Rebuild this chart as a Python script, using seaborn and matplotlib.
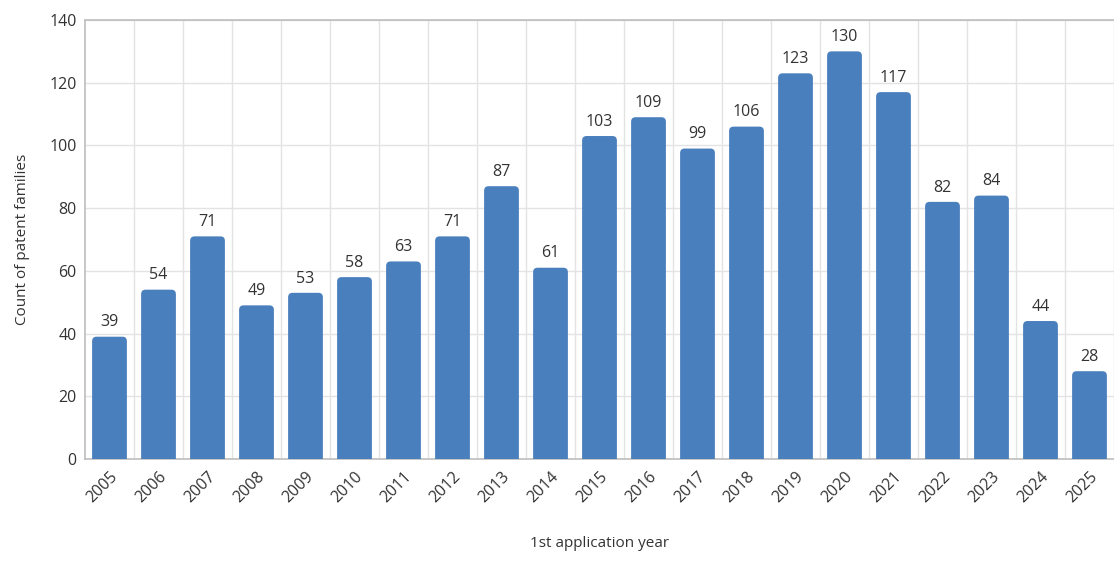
import numpy as np
import pandas as pd
import matplotlib
matplotlib.use("Agg")
import matplotlib.pyplot as plt
from matplotlib.patches import FancyBboxPatch
import seaborn as sns

# ----------------------------------------------------
# Data
# ----------------------------------------------------
years = [str(y) for y in range(2005, 2026)]
counts = [39, 54, 71, 49, 53, 58, 63, 71, 87, 61,
          103, 109, 99, 106, 123, 130, 117, 82, 84, 44, 28]

df = pd.DataFrame({"year": years, "count": counts})

# ----------------------------------------------------
# Style
# ----------------------------------------------------
sns.set_style("white")
plt.rcParams['font.family'] = ['Open Sans', 'DejaVu Sans']

bar_color = "#4a7fbd"
text_color = "#333333"
grid_color = "#e3e3e3"

fig = plt.figure(figsize=(11.14, 5.72), dpi=100)
ax = fig.add_axes([85 / 1114, 113 / 572, 1029 / 1114, 439 / 572])

sns.barplot(data=df, x="year", y="count", color=bar_color,
            width=0.71, saturation=1, linewidth=0, ax=ax, zorder=3)

# swap the flat bars for ones with rounded tops
px_x = 49.3          # pixels per category
px_y = 439 / 140     # pixels per unit count
aspect = px_x / px_y
rad = 4.5 / px_x
for p in list(ax.patches):
    x0, w, h = p.get_x(), p.get_width(), p.get_height()
    p.set_visible(False)
    ax.add_patch(FancyBboxPatch((x0, -6), w, h + 6,
                                boxstyle=f"round,pad=0,rounding_size={rad}",
                                mutation_aspect=aspect,
                                facecolor=bar_color, edgecolor="none", zorder=3))

# value labels
for i, v in enumerate(counts):
    ax.text(i, v + 2, str(v), ha="center", va="bottom",
            fontsize=11.5, color=text_color)

ax.set_ylim(0, 140)
ax.set_yticks(np.arange(0, 141, 20))
ax.set_xlim(-0.5, -0.5 + 1029 / px_x)

# grid: horizontal at ticks, vertical between categories
ax.set_xticks(np.arange(len(years)) + 0.5, minor=True)
ax.grid(axis="y", color=grid_color, linewidth=1, zorder=0)
ax.grid(axis="x", which="minor", color=grid_color, linewidth=1, zorder=0)
ax.set_axisbelow(True)

ax.set_xticks(range(len(years)))
ax.set_xticklabels(years, rotation=45, ha="right", rotation_mode="anchor",
                   fontsize=11.5, color=text_color)
ax.tick_params(axis="x", which="both", length=0, pad=7)
ax.tick_params(axis="y", length=0, labelsize=11.5, labelcolor=text_color, pad=6)

for side in ["left", "bottom", "top"]:
    ax.spines[side].set_color("#bdbdbd")
    ax.spines[side].set_linewidth(1.2)
ax.spines["right"].set_visible(False)

ax.set_xlabel("1st application year", fontsize=11, color=text_color, labelpad=22)
ax.set_ylabel("Count of patent families", fontsize=11, color=text_color, labelpad=14)

fig.savefig("out.png", dpi=100)
